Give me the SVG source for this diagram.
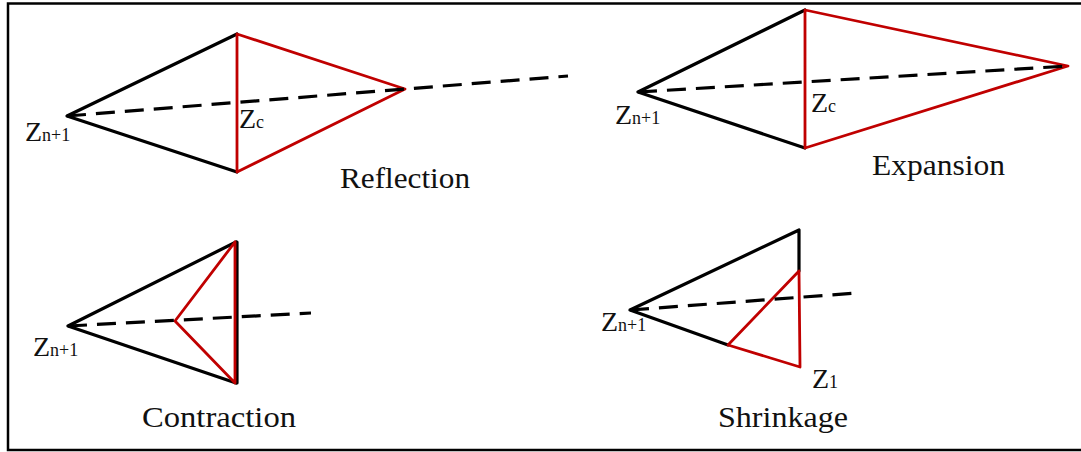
<svg xmlns="http://www.w3.org/2000/svg" width="1081" height="452" viewBox="0 0 1081 452">
<style>
.blk{stroke:#000;stroke-width:3.2;fill:none;stroke-linecap:round;stroke-linejoin:round}
.red{stroke:#c00000;stroke-width:2.8;fill:none;stroke-linecap:round;stroke-linejoin:round}
.dash{stroke:#000;stroke-width:3.2;fill:none;stroke-dasharray:19 10}
.lbl{font-family:"Liberation Serif","Times New Roman",serif;font-size:30px;fill:#111}
.z{font-family:"Liberation Serif","Times New Roman",serif;font-size:28px;fill:#111}
.sub{font-size:18px}
</style>
<rect x="8" y="3.5" width="1085" height="446.5" fill="#fff" stroke="#000" stroke-width="2.5"/>
<g id="reflection">
<polyline class="blk" points="237,34 67,116 237,172"/>
<polygon class="red" points="237,34 405,89 237,172"/>
<text class="z" x="239" y="128">Z<tspan class="sub">c</tspan></text>
<text class="z" x="25" y="141">Z<tspan class="sub">n+1</tspan></text>
<text class="lbl" x="340" y="188" textLength="130" lengthAdjust="spacingAndGlyphs">Reflection</text>
</g>
<g id="expansion">
<polyline class="blk" points="805,10 638,92 805,148"/>
<polygon class="red" points="805,10 1068,66 805,148"/>
<text class="z" x="811" y="112">Z<tspan class="sub">c</tspan></text>
<text class="z" x="615" y="124">Z<tspan class="sub">n+1</tspan></text>
<text class="lbl" x="872" y="175" textLength="133" lengthAdjust="spacingAndGlyphs">Expansion</text>
</g>
<g id="contraction">
<polyline class="blk" points="236,242 68,326 236,383"/>
<line class="blk" x1="237" y1="242" x2="237" y2="383"/>
<polyline class="red" points="235,242 175,321 235,383 235,242"/>
<text class="z" x="33" y="356">Z<tspan class="sub">n+1</tspan></text>
<text class="lbl" x="142" y="427" textLength="154" lengthAdjust="spacingAndGlyphs">Contraction</text>
</g>
<g id="shrinkage">
<polyline class="blk" points="728,345 630,310 799,230 799,271"/>
<polygon class="red" points="799,271 728,345 800,367"/>
<text class="z" x="601" y="331">Z<tspan class="sub">n+1</tspan></text>
<text class="z" x="812" y="388">Z<tspan class="sub">1</tspan></text>
<text class="lbl" x="718" y="427" textLength="130" lengthAdjust="spacingAndGlyphs">Shrinkage</text>
</g>
<g id="connectors">
<line class="dash" x1="67" y1="116" x2="568" y2="76"/>
<line class="dash" x1="638" y1="92" x2="1068" y2="66"/>
<line class="dash" x1="68" y1="326" x2="311" y2="313"/>
<line class="dash" x1="630" y1="310" x2="857" y2="293"/>
</g>
</svg>
